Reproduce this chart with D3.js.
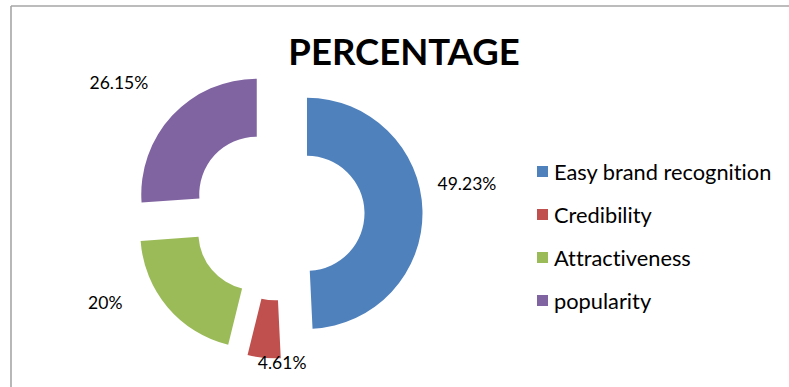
<!DOCTYPE html>
<html>
<head>
<meta charset="utf-8">
<script src="https://cdn.jsdelivr.net/npm/d3@7"></script>
<style>
  html, body { margin: 0; padding: 0; background: #fff; }
  svg { display: block; }
  text { font-family: Lato, "Open Sans", sans-serif; fill: #000; font-variant-ligatures: none; font-feature-settings: "liga" 0, "dlig" 0; }
</style>
</head>
<body>
<svg id="chart" width="789" height="387"></svg>
<script>
const title = "PERCENTAGE";
const categories = ["Easy brand recognition", "Credibility", "Attractiveness", "popularity"];
const values = [49.23, 4.61, 20, 26.15];
const valueLabels = ["49.23%", "4.61%", "20%", "26.15%"];
const colors = ["#4F81BD", "#C0504D", "#9BBB59", "#8064A2"];

// layout
const W = 789, H = 387;
const cx = 278, cy = 214;
const outerR = 115.5, innerR = 57.5, explode = 29;
const labelR = 175;
const labelNudge = [[14, -26], [21, -25], [-39, -24], [-31, -12]];

const svg = d3.select("#chart");

// chart area border (top and left visible)
svg.append("line").attr("x1", 11).attr("y1", 6).attr("x2", W + 5).attr("y2", 6)
  .attr("stroke", "#a6a6a6").attr("stroke-width", 1.6);
svg.append("line").attr("x1", 11).attr("y1", 6).attr("x2", 11).attr("y2", H + 5)
  .attr("stroke", "#a6a6a6").attr("stroke-width", 1.6);

// title
svg.append("text").attr("x", 404).attr("y", 65)
  .attr("text-anchor", "middle")
  .style("font-size", "36.5px").style("font-weight", "bold")
  .text(title);

const data = categories.map((c, i) => ({ name: c, value: values[i], label: valueLabels[i], color: colors[i], idx: i }));

const pie = d3.pie().sort(null).value(d => d.value).startAngle(0).endAngle(2 * Math.PI);
const arcs = pie(data);
const arc = d3.arc().innerRadius(innerR).outerRadius(outerR);
const labelArc = d3.arc().innerRadius(labelR).outerRadius(labelR);

const g = svg.append("g").attr("transform", `translate(${cx},${cy})`);

g.selectAll("path.slice").data(arcs).enter().append("path")
  .attr("class", "slice")
  .attr("d", arc)
  .attr("fill", d => d.data.color)
  .attr("transform", d => {
    const mid = (d.startAngle + d.endAngle) / 2;
    return `translate(${Math.sin(mid) * explode},${-Math.cos(mid) * explode})`;
  });

g.selectAll("text.lbl").data(arcs).enter().append("text")
  .attr("class", "lbl")
  .attr("text-anchor", "middle")
  .attr("x", d => labelArc.centroid(d)[0] + labelNudge[d.index][0])
  .attr("y", d => labelArc.centroid(d)[1] + labelNudge[d.index][1] + 6)
  .style("font-size", "17.5px")
  .text(d => d.data.label);

// legend
const legend = svg.append("g").attr("transform", "translate(537,0)");
const legendY = d3.scalePoint().domain(categories).range([172, 301]);
const items = legend.selectAll("g.item").data(data).enter().append("g")
  .attr("class", "item")
  .attr("transform", d => `translate(0,${legendY(d.name)})`);
items.append("rect").attr("x", 0).attr("y", -6).attr("width", 11).attr("height", 11)
  .attr("fill", d => d.color);
items.append("text").attr("x", 17).attr("y", 7.5)
  .style("font-size", "21.8px")
  .text(d => d.name);
</script>
</body>
</html>
